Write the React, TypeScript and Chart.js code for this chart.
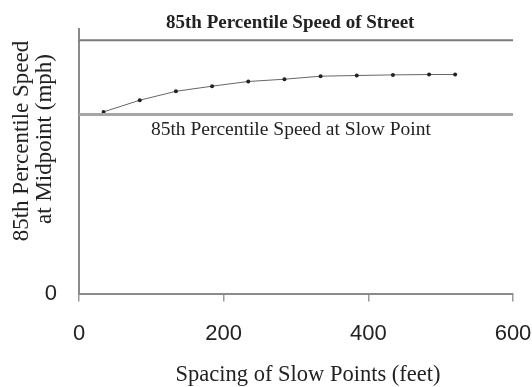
import React, { useEffect, useRef } from "react";
import { Chart, registerables } from "chart.js";

Chart.register(...registerables);

// Data
const spacingFeet = [34, 84, 134, 184, 234, 284, 334, 384, 434, 484, 520];
const midpointSpeed = [20.56, 21.88, 22.89, 23.47, 24.0, 24.26, 24.6, 24.68, 24.75, 24.79, 24.79];
const streetSpeed = 28.68;
const slowPointSpeed = 20.26;
const xRange = [0, 600];
const yRange = [0, 30];

const xTitle = "Spacing of Slow Points (feet)";
const yTitleLines = ["85th Percentile Speed", "at Midpoint (mph)"];
const streetLabel = "85th Percentile Speed of Street";
const slowLabel = "85th Percentile Speed at Slow Point";

const SERIF = "'Liberation Serif', 'DejaVu Serif', serif";
const SANS = "'Liberation Sans', Arial, sans-serif";

const textPlugin = {
  id: "textPlugin",
  afterDraw(chart: any) {
    const { ctx, chartArea, scales } = chart;
    const x = scales.x;
    const y = scales.y;
    ctx.save();
    ctx.fillStyle = "#222";
    ctx.textAlign = "center";
    ctx.textBaseline = "middle";

    // annotation labels
    ctx.font = `bold 19px ${SERIF}`;
    ctx.fillText(streetLabel, x.getPixelForValue(292), y.getPixelForValue(streetSpeed) - 17);
    ctx.font = `19.5px ${SERIF}`;
    ctx.fillText(slowLabel, x.getPixelForValue(293), y.getPixelForValue(slowPointSpeed) + 15);

    // x title
    ctx.font = `22.5px ${SERIF}`;
    ctx.fillText(xTitle, (chartArea.left + chartArea.right) / 2 + 12, 375);

    // y title
    const cy = 141;
    ctx.save();
    ctx.translate(22, cy);
    ctx.rotate(-Math.PI / 2);
    ctx.font = `23px ${SERIF}`;
    ctx.fillText(yTitleLines[0], 0, 0);
    ctx.restore();
    ctx.save();
    ctx.translate(45, cy - 2);
    ctx.rotate(-Math.PI / 2);
    ctx.font = `23px ${SERIF}`;
    ctx.fillText(yTitleLines[1], 0, 0);
    ctx.restore();
    ctx.restore();
  },
};

export default function App() {
  const ref = useRef<HTMLCanvasElement | null>(null);
  useEffect(() => {
    if (!ref.current) return;
    const chart = new Chart(ref.current, {
      type: "scatter",
      data: {
        datasets: [
          {
            data: xRange.map((v) => ({ x: v, y: streetSpeed })),
            showLine: true,
            borderColor: "#7a7a7a",
            borderWidth: 2,
            pointRadius: 0,
          },
          {
            data: xRange.map((v) => ({ x: v, y: slowPointSpeed })),
            showLine: true,
            borderColor: "#a6a6a6",
            borderWidth: 3,
            pointRadius: 0,
          },
          {
            data: spacingFeet.map((v, i) => ({ x: v, y: midpointSpeed[i] })),
            showLine: true,
            borderColor: "#666",
            borderWidth: 1,
            pointRadius: 2,
            pointBackgroundColor: "#222",
            pointBorderColor: "#222",
            pointBorderWidth: 0,
          },
        ],
      },
      options: {
        animation: false,
        responsive: true,
        maintainAspectRatio: false,
        layout: { autoPadding: false, padding: { top: 28.5, left: 0, right: 19, bottom: 0 } },
        plugins: { legend: { display: false }, tooltip: { enabled: false } },
        scales: {
          x: {
            type: "linear",
            min: xRange[0],
            max: xRange[1],
            ticks: {
              stepSize: 200,
              color: "#222",
              font: { family: SANS, size: 22 },
              padding: 19,
              maxRotation: 0,
            },
            grid: {
              drawOnChartArea: false,
              drawTicks: true,
              tickLength: 8,
              color: "#9a9a9a",
              lineWidth: 1.5,
            },
            border: { color: "#8a8a8a", width: 2 },
            afterFit: (s: any) => {
              s.height = 387 - 293.5;
              s.paddingLeft = 0;
              s.paddingRight = 0;
            },
          },
          y: {
            type: "linear",
            min: yRange[0],
            max: yRange[1],
            ticks: {
              stepSize: 30,
              color: "#222",
              font: { family: SANS, size: 22 },
              padding: 22,
              callback: (v: any) => (v === 0 ? "0" : ""),
            },
            grid: { display: false, drawTicks: false },
            border: { color: "#8a8a8a", width: 2 },
            afterFit: (s: any) => {
              s.width = 79;
              s.paddingTop = 0;
              s.paddingBottom = 0;
            },
          },
        },
      },
      plugins: [textPlugin],
    });
    return () => chart.destroy();
  }, []);
  return (
    <div style={{ position: "fixed", left: 0, top: 0, width: 532, height: 387, background: "#fff" }}>
      <canvas ref={ref} />
    </div>
  );
}
